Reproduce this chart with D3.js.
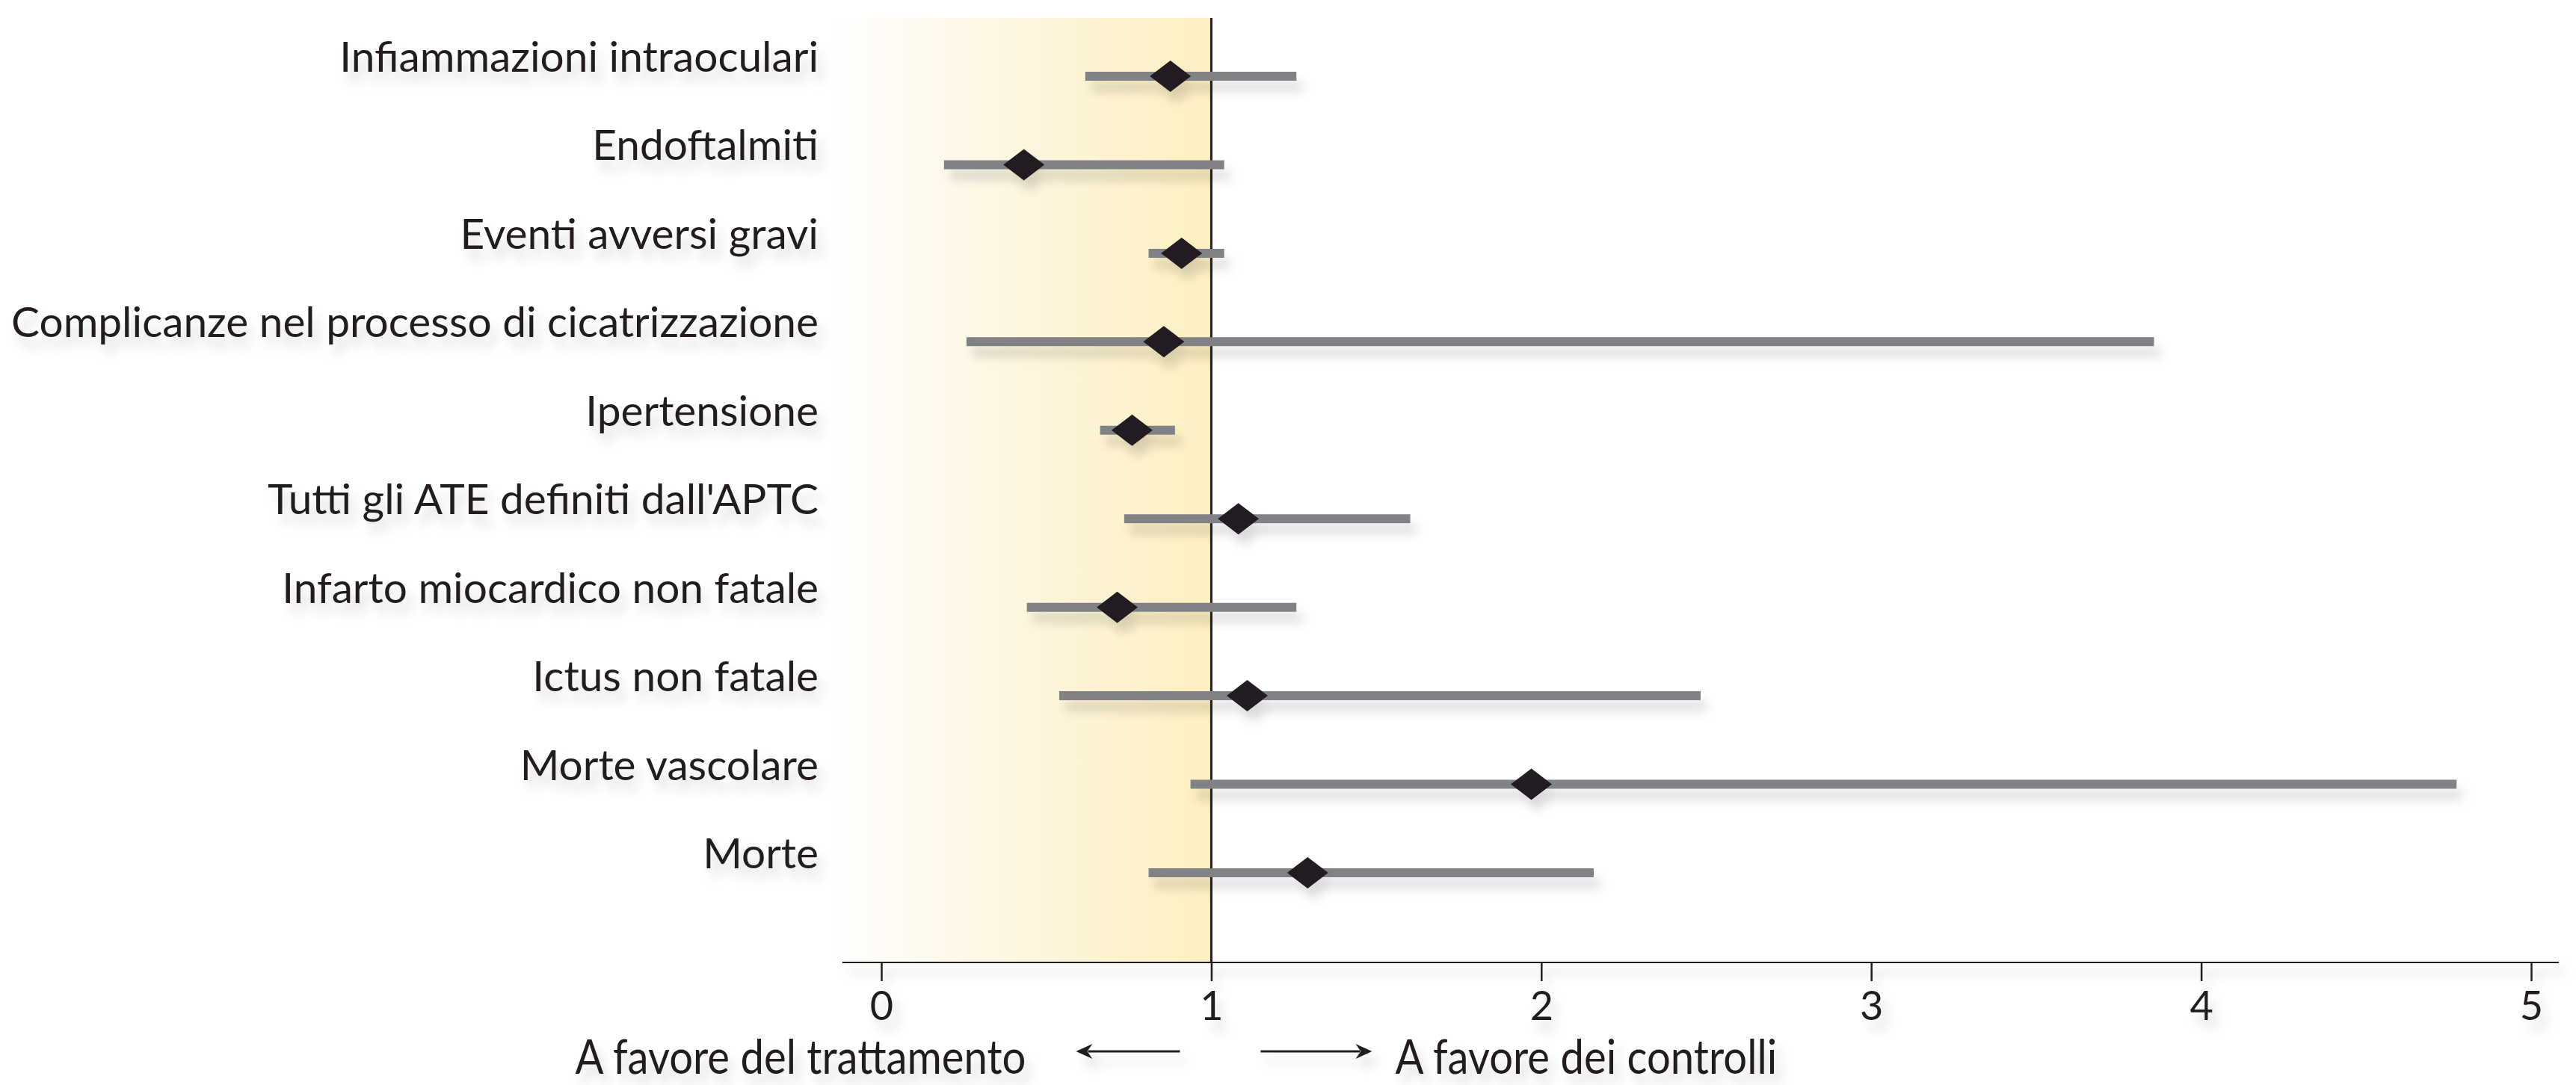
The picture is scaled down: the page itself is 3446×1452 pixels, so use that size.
<!DOCTYPE html>
<html>
<head>
<meta charset="utf-8">
<script src="https://cdn.jsdelivr.net/npm/d3@7"></script>
<style>
  html, body { margin: 0; padding: 0; background: #ffffff; }
  svg { display: block; }
  text { font-family: Lato, "Open Sans", sans-serif; fill: #231f20; }
</style>
</head>
<body>
<script>
// Outcomes and their relative risks with confidence intervals
const categories = [
  "Infiammazioni intraoculari",
  "Endoftalmiti",
  "Eventi avversi gravi",
  "Complicanze nel processo di cicatrizzazione",
  "Ipertensione",
  "Tutti gli ATE definiti dall'APTC",
  "Infarto miocardico non fatale",
  "Ictus non fatale",
  "Morte vascolare",
  "Morte"
];
const estimates = [0.876, 0.432, 0.91, 0.856, 0.76, 1.082, 0.715, 1.109, 1.97, 1.292];
const lowerCI   = [0.618, 0.19, 0.81, 0.258, 0.663, 0.736, 0.441, 0.539, 0.937, 0.81];
const upperCI   = [1.258, 1.039, 1.039, 3.857, 0.89, 1.603, 1.258, 2.483, 4.774, 2.159];
const xTicks = [0, 1, 2, 3, 4, 5];
const leftNote = "A favore del trattamento";
const rightNote = "A favore dei controlli";

const W = 3446, H = 1452;
const rows = categories.map((c, i) => ({ label: c, est: estimates[i], lo: lowerCI[i], hi: upperCI[i] }));

const x = d3.scaleLinear().domain([0, 5]).range([1179, 3386]);
const y = d3.scalePoint().domain(categories).range([102, 1168]);
const axisY = 1287;
const shadeTop = 24;
const labelRight = 1095;

const svg = d3.select("body").append("svg").attr("width", W).attr("height", H);
const defs = svg.append("defs");

// soft drop shadow used by marks and text (user-space region so thin lines keep it)
const f = defs.append("filter").attr("id", "shadow")
  .attr("filterUnits", "userSpaceOnUse")
  .attr("x", 0).attr("y", 0).attr("width", W).attr("height", H);
f.append("feDropShadow").attr("dx", 8).attr("dy", 14).attr("stdDeviation", 7)
  .attr("flood-color", "#000").attr("flood-opacity", 0.14);

const grad = defs.append("linearGradient").attr("id", "favour").attr("x1", "0").attr("x2", "1").attr("y1", "0").attr("y2", "0");
grad.append("stop").attr("offset", "0").attr("stop-color", "#ffffff");
grad.append("stop").attr("offset", "0.3").attr("stop-color", "#fef9ec");
grad.append("stop").attr("offset", "1").attr("stop-color", "#fcefc0");

// shaded region favouring treatment (left of RR = 1)
svg.append("rect")
  .attr("x", x(-0.16)).attr("y", shadeTop)
  .attr("width", x(1) - x(-0.16)).attr("height", axisY - shadeTop)
  .attr("fill", "url(#favour)");

// x axis
const axis = d3.axisBottom(x).tickValues(xTicks).tickFormat(d3.format("d")).tickSize(26).tickPadding(14);
const gx = svg.append("g").attr("transform", `translate(0,${axisY})`).call(axis);
gx.select(".domain").remove();
gx.selectAll(".tick line").attr("stroke", "#231f20").attr("stroke-width", 2.5);
gx.selectAll(".tick text").attr("font-size", 54).attr("fill", "#231f20")
  .attr("font-family", "Lato, sans-serif");
gx.attr("filter", "url(#shadow)");
gx.append("line")
  .attr("x1", x(-0.118)).attr("x2", x(5.084))
  .attr("y1", 0).attr("y2", 0)
  .attr("stroke", "#231f20").attr("stroke-width", 4);

// reference line at RR = 1
svg.append("line")
  .attr("x1", x(1)).attr("x2", x(1)).attr("y1", shadeTop).attr("y2", axisY)
  .attr("stroke", "#231f20").attr("stroke-width", 3);

// category labels
const labels = svg.append("g").attr("filter", "url(#shadow)");
const lt = labels.selectAll("text").data(rows).join("text")
  .attr("text-anchor", "end").attr("font-size", 56)
  .text(d => d.label);
const widest = d3.max(lt.nodes(), n => n.getComputedTextLength());
const kLabel = 1080 / widest;
lt.attr("transform", d => `translate(${labelRight},${y(d.label) - 6}) scale(${kLabel},1)`);

// confidence interval bars and point estimates
const marks = svg.append("g").attr("filter", "url(#shadow)");
marks.selectAll("line").data(rows).join("line")
  .attr("x1", d => x(d.lo)).attr("x2", d => x(d.hi))
  .attr("y1", d => y(d.label)).attr("y2", d => y(d.label))
  .attr("stroke", "#808285").attr("stroke-width", 12);

const hw = 27.5, hh = 21;
const diamond = () => {
  const p = d3.path();
  p.moveTo(0, -hh); p.lineTo(hw, 0); p.lineTo(0, hh); p.lineTo(-hw, 0); p.closePath();
  return p.toString();
};
marks.selectAll("path").data(rows).join("path")
  .attr("d", diamond)
  .attr("transform", d => `translate(${x(d.est)},${y(d.label)})`)
  .attr("fill", "#231f20");

// direction notes under the axis
const noteY = 1437, arrowY = 1407;
const notes = svg.append("g").attr("filter", "url(#shadow)");
const tl = notes.append("text").attr("font-size", 64).attr("text-anchor", "end").text(leftNote);
const kNote = 603 / tl.node().getComputedTextLength();
tl.attr("transform", `translate(${x(1) - 248},${noteY}) scale(${kNote},1)`);
notes.append("text").attr("font-size", 64).attr("text-anchor", "start").text(rightNote)
  .attr("transform", `translate(${x(1) + 246},${noteY}) scale(${kNote},1)`);

const arrowHead = (tipX, dir) => {
  const p = d3.path();
  p.moveTo(tipX, arrowY);
  p.lineTo(tipX - dir * 22, arrowY - 10);
  p.lineTo(tipX - dir * 15, arrowY);
  p.lineTo(tipX - dir * 22, arrowY + 10);
  p.closePath();
  return p.toString();
};
const arrows = [
  { from: x(1) - 42, to: x(1) - 181, dir: -1 },
  { from: x(1) + 66, to: x(1) + 215, dir: 1 }
];
const ag = svg.append("g").attr("filter", "url(#shadow)");
ag.selectAll("line").data(arrows).join("line")
  .attr("x1", d => d.from).attr("x2", d => d.to - d.dir * 16)
  .attr("y1", arrowY).attr("y2", arrowY)
  .attr("stroke", "#231f20").attr("stroke-width", 3);
ag.selectAll("path").data(arrows).join("path")
  .attr("d", d => arrowHead(d.to, d.dir)).attr("fill", "#231f20");
</script>
</body>
</html>
